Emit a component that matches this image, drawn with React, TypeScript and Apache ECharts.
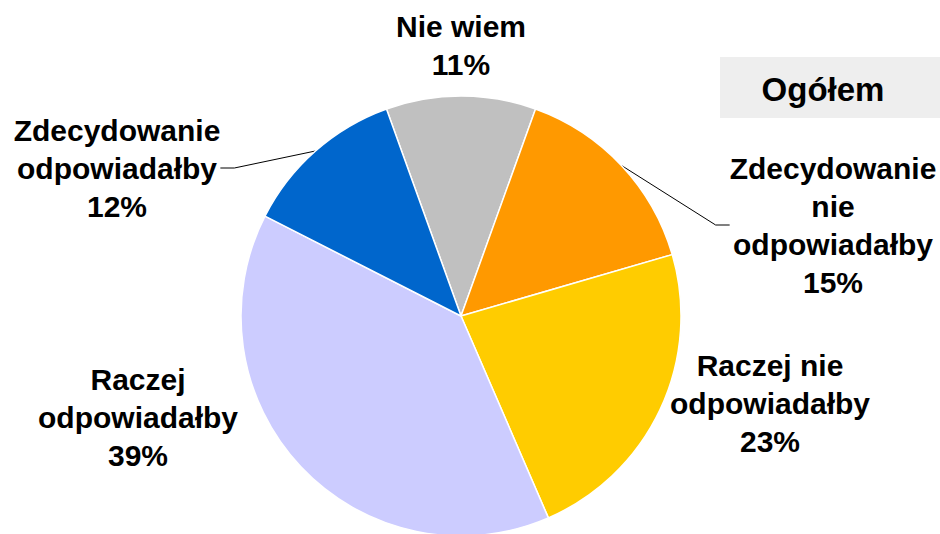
import React, { useEffect, useRef } from "react";
import * as echarts from "echarts";

const categories = [
  "Nie wiem",
  "Zdecydowanie\nnie\nodpowiadałby",
  "Raczej nie\nodpowiadałby",
  "Raczej\nodpowiadałby",
  "Zdecydowanie\nodpowiadałby",
];
const values = [11, 15, 23, 39, 12];
const colors = ["#C0C0C0", "#FF9900", "#FFCC00", "#CCCCFF", "#0066CC"];
const showLeader = [false, true, false, false, true];
const title = "Ogółem";

// label anchor positions (layout only)
const labelPos: [number, number][] = [
  [461, 45],
  [833, 225],
  [770, 403],
  [138, 417],
  [117, 168],
];

const FONT = "'Liberation Sans', Arial, sans-serif";

export default function App() {
  const ref = useRef<HTMLDivElement>(null);
  useEffect(() => {
    if (!ref.current) return;
    const chart = echarts.init(ref.current, undefined, { renderer: "svg" });
    const data = categories.map((name, i) => ({
      name,
      value: values[i],
      itemStyle: { color: colors[i] },
      labelLine: { show: showLeader[i] },
    }));
    chart.setOption({
      animation: false,
      backgroundColor: "#FFFFFF",
      graphic: [
        {
          type: "rect",
          shape: { x: 720, y: 57, width: 220, height: 61 },
          style: { fill: "#EEEEEE" },
          z: 0,
        },
        {
          type: "text",
          x: 823,
          y: 89,
          style: {
            text: title,
            fill: "#000000",
            font: `bold 33px ${FONT}`,
            textAlign: "center",
            textVerticalAlign: "middle",
          },
          z: 1,
        },
      ],
      series: [
        {
          type: "pie",
          center: [461, 316],
          radius: 220,
          startAngle: 109.8,
          clockwise: true,
          avoidLabelOverlap: false,
          itemStyle: { borderColor: "#FFFFFF", borderWidth: 1.5 },
          label: {
            show: true,
            position: "outside",
            formatter: "{b}\n{c}%",
            fontFamily: FONT,
            fontWeight: "bold",
            fontSize: 30,
            lineHeight: 38,
            color: "#000000",
            align: "center",
          },
          labelLine: {
            show: true,
            length: 20,
            length2: 14,
            lineStyle: { color: "#000000", width: 1 },
          },
          labelLayout: (params: any) => {
            const p = labelPos[params.dataIndex];
            return {
              x: p[0],
              y: p[1],
              align: "center",
              verticalAlign: "middle",
            };
          },
          emphasis: { disabled: true },
          data,
        },
      ],
    });
    return () => chart.dispose();
  }, []);
  return (
    <div
      ref={ref}
      style={{ position: "fixed", left: 0, top: 0, width: 940, height: 534 }}
    />
  );
}
